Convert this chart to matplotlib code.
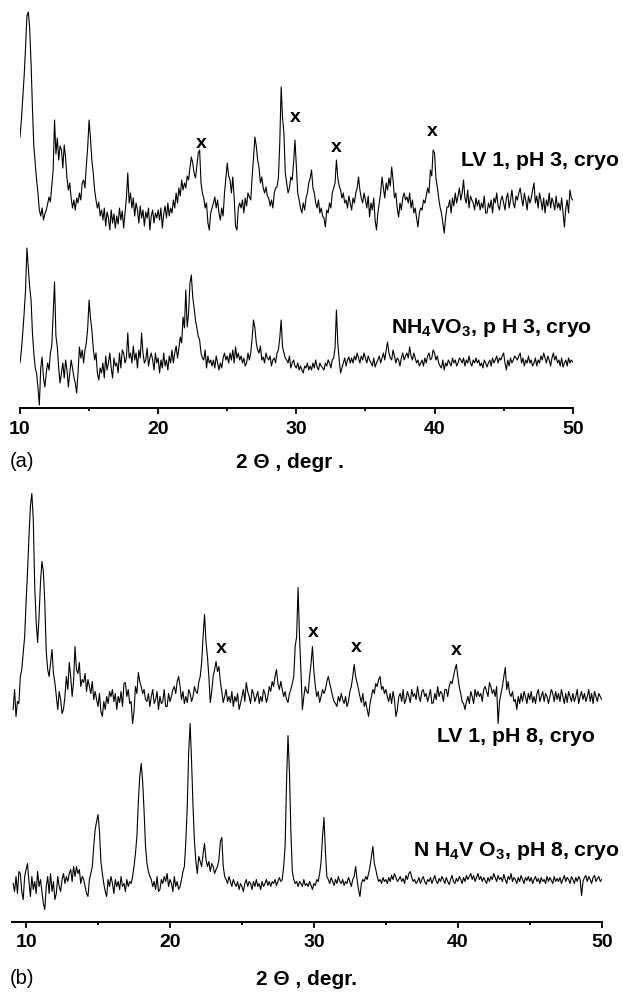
import numpy as np
import matplotlib
matplotlib.use('Agg')
import matplotlib.pyplot as plt
from matplotlib.ticker import MultipleLocator

plt.rcParams['font.family'] = ['Liberation Sans', 'DejaVu Sans']
plt.rcParams['mathtext.fontset'] = 'custom'
plt.rcParams['mathtext.rm'] = 'Liberation Sans:bold'
plt.rcParams['mathtext.it'] = 'Liberation Sans:bold'
plt.rcParams['mathtext.bf'] = 'Liberation Sans:bold'

# ---------------- data (intensity, a.u.; 0.1 degree steps) ----------------
theta_a_start = 10.0
theta_b_start = 9.1
theta_step = 0.1

# panel (a): LV 1, pH 3, cryo
lv1_ph3 = [
    101, 118, 140, 162, 190, 222, 226, 210, 175, 130,
    92, 75, 58, 45, 28, 22, 30, 18, 24, 28,
    34, 41, 36, 52, 68, 118, 84, 100, 78, 92,
    88, 70, 93, 80, 60, 48, 55, 40, 30, 38,
    28, 40, 35, 45, 38, 55, 58, 50, 72, 91,
    118, 100, 78, 65, 48, 38, 30, 36, 22, 28,
    18, 30, 12, 26, 20, 8, 28, 15, 24, 10,
    22, 14, 30, 18, 27, 10, 25, 40, 65, 35,
    45, 30, 40, 22, 35, 28, 15, 32, 20, 28,
    12, 26, 20, 30, 8, 22, 28, 15, 25, 20,
    28, 18, 30, 10, 24, 32, 20, 35, 22, 30,
    25, 38, 30, 45, 35, 50, 42, 58, 48, 55,
    50, 62, 58, 70, 81, 75, 65, 60, 72, 85,
    88, 55, 45, 40, 30, 35, 15, 8, 25, 30,
    35, 41, 30, 38, 25, 18, 30, 22, 45, 60,
    75, 62, 58, 45, 61, 40, 12, 8, 30, 35,
    30, 38, 25, 40, 32, 45, 41, 38, 61, 80,
    101, 92, 78, 70, 55, 61, 50, 45, 51, 42,
    40, 32, 38, 30, 45, 50, 51, 60, 95, 151,
    120, 105, 65, 55, 45, 50, 61, 58, 75, 98,
    72, 45, 38, 30, 25, 35, 28, 40, 45, 55,
    60, 68, 50, 45, 35, 30, 38, 25, 30, 22,
    20, 11, 28, 25, 35, 30, 45, 50, 55, 78,
    60, 52, 48, 40, 45, 35, 38, 30, 42, 35,
    28, 40, 35, 45, 50, 61, 48, 40, 35, 45,
    38, 30, 42, 21, 35, 28, 40, 18, 8, 25,
    35, 45, 61, 50, 40, 55, 48, 60, 52, 71,
    58, 40, 45, 30, 21, 35, 28, 40, 45, 38,
    41, 35, 45, 30, 38, 25, 30, 20, 11, 25,
    30, 28, 38, 35, 42, 50, 45, 68, 62, 88,
    85, 60, 51, 40, 31, 25, 15, 5, 20, 31,
    31, 38, 25, 40, 32, 45, 35, 42, 50, 38,
    45, 58, 40, 35, 48, 30, 42, 38, 35, 28,
    40, 32, 38, 28, 35, 30, 42, 25, 25, 35,
    30, 38, 25, 40, 35, 45, 32, 28, 38, 42,
    35, 28, 40, 45, 30, 38, 48, 35, 30, 42,
    38, 45, 50, 40, 32, 45, 38, 28, 42, 35,
    40, 48, 55, 35, 42, 30, 45, 38, 28, 40,
    25, 38, 32, 45, 30, 40, 35, 28, 42, 30,
    35, 28, 40, 25, 11, 30, 38, 25, 48, 40,
    38,
]

# panel (a): NH4VO3, pH 3, cryo
nh4vo3_ph3 = [
    45, 58, 75, 95, 118, 160, 140, 121, 108, 75,
    55, 40, 35, 20, 3, 40, 51, 30, 21, 35,
    45, 38, 55, 62, 95, 126, 72, 61, 40, 25,
    35, 45, 30, 48, 38, 21, 35, 48, 40, 31,
    25, 15, 35, 61, 50, 58, 45, 58, 65, 80,
    108, 90, 78, 60, 48, 55, 35, 28, 40, 35,
    45, 30, 52, 38, 45, 55, 40, 30, 50, 42,
    45, 35, 55, 40, 58, 55, 45, 50, 75, 50,
    55, 45, 62, 48, 55, 40, 58, 50, 75, 55,
    45, 48, 60, 42, 50, 55, 48, 38, 55, 45,
    50, 35, 48, 40, 55, 42, 48, 38, 52, 45,
    58, 45, 55, 62, 50, 60, 71, 65, 91, 80,
    118, 81, 95, 125, 133, 111, 100, 88, 80, 72,
    68, 55, 50, 48, 58, 40, 52, 45, 48, 42,
    48, 40, 52, 45, 38, 45, 40, 50, 55, 48,
    52, 45, 55, 48, 58, 45, 61, 50, 55, 48,
    52, 45, 50, 42, 45, 55, 48, 55, 70, 88,
    80, 65, 58, 55, 62, 48, 51, 45, 55, 50,
    48, 52, 42, 48, 50, 45, 55, 58, 70, 88,
    61, 55, 50, 48, 45, 52, 40, 45, 48, 42,
    40, 45, 38, 42, 38, 35, 42, 40, 45, 38,
    42, 38, 45, 40, 48, 41, 38, 45, 42, 40,
    38, 45, 42, 48, 45, 40, 48, 50, 60, 98,
    65, 48, 35, 40, 45, 50, 42, 48, 51, 45,
    50, 45, 52, 48, 55, 50, 45, 52, 48, 55,
    50, 45, 52, 48, 45, 42, 50, 41, 45, 48,
    52, 45, 50, 55, 48, 58, 66, 55, 50, 48,
    58, 52, 45, 50, 48, 42, 50, 55, 48, 52,
    55, 50, 61, 52, 48, 55, 50, 45, 48, 42,
    45, 48, 42, 50, 45, 52, 55, 48, 50, 58,
    55, 48, 52, 45, 42, 40, 48, 38, 45, 42,
    48, 45, 42, 50, 45, 48, 42, 45, 50, 48,
    45, 50, 42, 48, 45, 52, 45, 42, 48, 45,
    50, 45, 48, 42, 45, 40, 48, 45, 41, 45,
    48, 42, 50, 45, 48, 52, 45, 50, 48, 52,
    55, 45, 38, 48, 42, 50, 45, 48, 52, 50,
    48, 52, 55, 45, 50, 42, 48, 45, 52, 45,
    48, 42, 45, 50, 42, 48, 45, 52, 48, 55,
    50, 45, 52, 48, 42, 50, 55, 48, 52, 45,
    48, 42, 50, 41, 45, 48, 42, 50, 45, 48,
    46,
]

# panel (b): LV 1, pH 8, cryo
lv1_ph8 = [
    22, 42, 15, 30, 28, 55, 62, 78, 95,
    129, 160, 195, 225, 238, 212, 145, 110, 89, 115,
    149, 170, 160, 129, 80, 62, 55, 68, 82, 58,
    49, 35, 22, 40, 32, 18, 22, 35, 55, 42,
    69, 55, 35, 50, 85, 62, 58, 69, 45, 52,
    49, 58, 40, 52, 45, 38, 50, 32, 40, 32,
    25, 38, 20, 15, 30, 22, 35, 28, 40, 35,
    42, 30, 38, 22, 35, 29, 40, 25, 48, 49,
    35, 42, 28, 30, 8, 20, 45, 38, 59, 50,
    45, 38, 42, 32, 30, 38, 25, 35, 42, 28,
    32, 40, 22, 35, 28, 30, 42, 25, 25, 38,
    30, 35, 42, 45, 38, 50, 55, 45, 32, 40,
    28, 35, 29, 42, 38, 30, 35, 45, 40, 38,
    49, 55, 69, 95, 117, 90, 75, 55, 29, 40,
    55, 62, 70, 60, 65, 50, 40, 29, 35, 42,
    30, 35, 29, 40, 25, 35, 30, 38, 22, 28,
    35, 42, 30, 49, 40, 35, 28, 42, 38, 30,
    35, 40, 28, 35, 30, 42, 38, 29, 35, 45,
    40, 50, 45, 55, 62, 48, 42, 50, 42, 35,
    40, 32, 29, 38, 42, 48, 55, 85, 95, 144,
    95, 60, 22, 35, 45, 40, 38, 55, 68, 85,
    60, 45, 35, 40, 29, 35, 42, 38, 42, 50,
    55, 48, 42, 35, 30, 28, 25, 35, 30, 38,
    32, 28, 35, 25, 30, 40, 45, 55, 67, 55,
    49, 42, 35, 29, 38, 25, 30, 22, 15, 28,
    35, 42, 38, 48, 45, 52, 55, 42, 45, 38,
    42, 35, 30, 38, 28, 40, 32, 15, 22, 35,
    38, 30, 42, 28, 32, 40, 35, 29, 42, 35,
    38, 32, 45, 35, 30, 40, 42, 35, 38, 30,
    35, 42, 28, 29, 38, 32, 45, 35, 40, 38,
    30, 42, 42, 35, 45, 50, 48, 55, 62, 67,
    55, 45, 38, 30, 28, 22, 30, 35, 28, 40,
    35, 28, 42, 35, 40, 35, 38, 30, 42, 45,
    40, 35, 49, 45, 38, 42, 35, 45, 8, 30,
    38, 45, 55, 64, 42, 50, 38, 35, 40, 30,
    32, 22, 35, 28, 38, 30, 40, 35, 28, 38,
    32, 40, 29, 35, 28, 38, 42, 30, 35, 40,
    30, 38, 35, 28, 35, 42, 38, 30, 40, 32,
    38, 30, 42, 35, 28, 38, 29, 40, 35, 30,
    38, 30, 35, 42, 28, 35, 40, 32, 38, 30,
    35, 42, 30, 38, 28, 40, 35, 30, 38, 35,
    32,
]

# panel (b): NH4VO3, pH 8, cryo
nh4vo3_ph8 = [
    38, 30, 45, 28, 50, 48, 30, 22, 45,
    52, 58, 40, 25, 45, 32, 40, 28, 50, 35,
    42, 30, 18, 12, 35, 45, 28, 48, 30, 40,
    22, 28, 45, 35, 30, 42, 48, 38, 45, 40,
    48, 52, 40, 55, 45, 55, 48, 52, 38, 45,
    42, 35, 28, 25, 42, 48, 55, 75, 92, 100,
    107, 90, 60, 48, 38, 30, 25, 42, 35, 45,
    38, 28, 42, 35, 40, 32, 45, 35, 38, 30,
    42, 35, 40, 38, 45, 55, 68, 85, 120, 145,
    158, 140, 110, 75, 58, 50, 45, 42, 35, 40,
    32, 45, 30, 32, 42, 38, 45, 40, 48, 35,
    42, 38, 30, 45, 35, 40, 32, 35, 42, 50,
    55, 80, 115, 170, 198, 160, 115, 80, 60, 48,
    65, 60, 55, 68, 78, 62, 55, 60, 50, 58,
    55, 48, 52, 55, 62, 80, 84, 55, 45, 42,
    38, 45, 40, 35, 42, 38, 35, 40, 32, 38,
    35, 30, 38, 42, 35, 40, 38, 32, 40, 35,
    42, 35, 38, 32, 40, 35, 38, 42, 36, 40,
    35, 40, 38, 42, 36, 40, 44, 40, 42, 55,
    75, 140, 186, 150, 90, 50, 42, 38, 40, 35,
    40, 38, 35, 42, 36, 38, 35, 40, 36, 32,
    38, 36, 42, 40, 48, 60, 85, 104, 70, 45,
    42, 38, 44, 40, 36, 42, 38, 45, 40, 38,
    42, 36, 40, 38, 44, 40, 35, 42, 45, 55,
    42, 32, 25, 38, 42, 40, 45, 42, 48, 55,
    65, 75, 58, 52, 45, 40, 42, 38, 44, 40,
    42, 38, 44, 40, 46, 42, 48, 44, 40, 42,
    45, 40, 43, 38, 46, 42, 48, 50, 44, 40,
    42, 38, 40, 44, 38, 42, 45, 40, 37, 42,
    40, 44, 38, 42, 46, 40, 38, 43, 40, 45,
    42, 38, 44, 40, 37, 42, 46, 40, 38, 43,
    40, 45, 42, 38, 44, 40, 46, 42, 45, 48,
    42, 46, 40, 44, 48, 42, 45, 40, 44, 41,
    38, 44, 40, 45, 42, 48, 44, 40, 46, 42,
    44, 40, 47, 42, 38, 45, 42, 48, 40, 44,
    42, 38, 44, 40, 46, 42, 38, 44, 41, 45,
    40, 44, 38, 42, 45, 40, 43, 38, 44, 40,
    42, 38, 45, 40, 44, 41, 38, 45, 40, 43,
    40, 44, 38, 42, 46, 40, 44, 42, 38, 45,
    42, 38, 44, 40, 45, 42, 26, 40, 44, 46,
    40, 45, 42, 38, 44, 46, 40, 43, 45, 40,
    42,
]

# stacking offsets of the upper patterns
offset_a = 170
offset_b = 190

# peaks marked with "x" (2 theta, label height)
x_marks_a_theta = [23.12, 29.93, 32.9, 39.83]
x_marks_a_h = [264, 290, 260, 276]
x_marks_b_theta = [23.59, 29.97, 32.98, 39.92]
x_marks_b_h = [273, 289, 274, 271]

xlabel_a = "2 \u0398 , degr ."
xlabel_b = "2 \u0398 , degr."
ticks_major = [10, 20, 30, 40, 50]

# ---------------- figure ----------------
W, H = 623, 992
fig = plt.figure(figsize=(W / 100, H / 100), dpi=100)


def px_axes(x0, x1, ytop, ybot):
    return [x0 / W, 1 - ybot / H, (x1 - x0) / W, (ybot - ytop) / H]


def style(ax, xmin):
    ax.set_xlim(xmin, 50)
    for s in ('left', 'right', 'top'):
        ax.spines[s].set_visible(False)
    ax.spines['bottom'].set_linewidth(1.4)
    ax.set_yticks([])
    ax.set_xticks(ticks_major)
    ax.xaxis.set_minor_locator(MultipleLocator(5))
    ax.tick_params(axis='x', which='major', direction='out', length=4.5, width=1.3,
                   pad=4.5, labelsize=14)
    ax.tick_params(axis='x', which='minor', direction='out', length=2.5, width=1.3)
    for lab in ax.get_xticklabels():
        lab.set_fontweight('bold')
    ax.patch.set_visible(False)


def ftext(x, y, s, **kw):
    fig.text(x / W, 1 - y / H, s, **kw)


LW = 0.8

# panel (a)
axA = fig.add_axes(px_axes(20, 572.7, 0, 408))
axA.set_ylim(0, 408)
tA = theta_a_start + theta_step * np.arange(len(lv1_ph3))
axA.plot(tA, np.array(lv1_ph3) + offset_a, color='black', lw=LW)
axA.plot(tA, np.array(nh4vo3_ph3), color='black', lw=LW)
style(axA, 10)
for t, h in zip(x_marks_a_theta, x_marks_a_h):
    axA.text(t, h, 'x', ha='center', va='center', fontsize=14, fontweight='bold')

# panel (b)
axB = fig.add_axes(px_axes(11.7, 601.7, 470, 921.5))
axB.set_ylim(0, 451.5)
tB = theta_b_start + theta_step * np.arange(len(lv1_ph8))
axB.plot(tB, np.array(lv1_ph8) + offset_b, color='black', lw=LW)
axB.plot(tB, np.array(nh4vo3_ph8), color='black', lw=LW)
style(axB, 9)
for t, h in zip(x_marks_b_theta, x_marks_b_h):
    axB.text(t, h, 'x', ha='center', va='center', fontsize=14, fontweight='bold')

# series labels
lab_kw = dict(ha='right', va='baseline', fontsize=15.3, fontweight='bold')
ftext(619, 165.5, 'LV 1, pH 3, cryo', **lab_kw)
ftext(592, 333, 'NH$_4$VO$_3$, p H 3, cryo', **lab_kw)
ftext(595, 741.5, 'LV 1, pH 8, cryo', **lab_kw)
ftext(620, 856.5, 'N H$_4$V O$_3$, pH 8, cryo', **lab_kw)

# axis titles and panel letters
ftext(290, 468, xlabel_a, ha='center', va='baseline', fontsize=15, fontweight='bold')
ftext(307, 985, xlabel_b, ha='center', va='baseline', fontsize=15, fontweight='bold')
ftext(10, 467.5, '(a)', ha='left', va='baseline', fontsize=14.5)
ftext(10, 984, '(b)', ha='left', va='baseline', fontsize=14.5)

fig.savefig('out.png', dpi=100)
